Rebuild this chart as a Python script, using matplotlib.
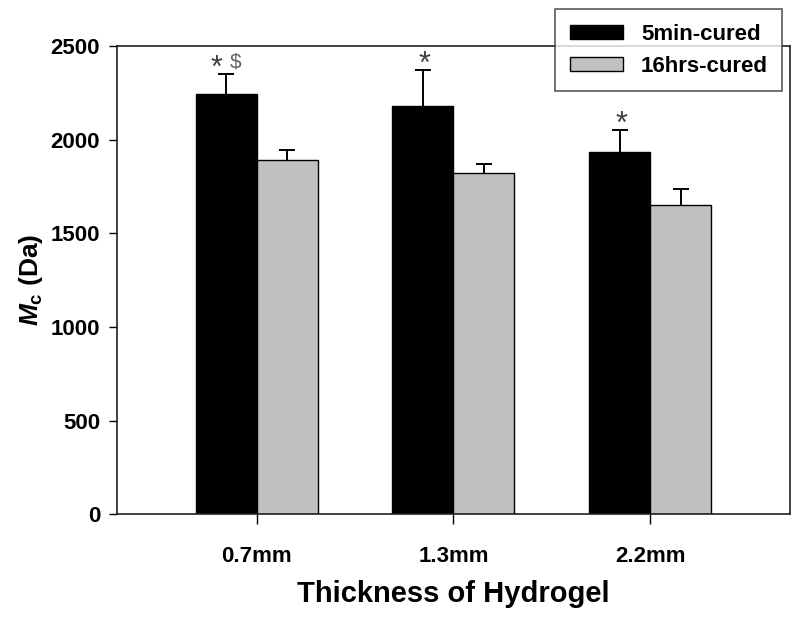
import numpy as np
import matplotlib.pyplot as plt

plt.rcParams['font.family'] = ['Liberation Sans', 'DejaVu Sans']
plt.rcParams['mathtext.fontset'] = 'custom'
plt.rcParams['mathtext.rm'] = 'Liberation Sans:bold'
plt.rcParams['mathtext.it'] = 'Liberation Sans:bold:italic'
plt.rcParams['mathtext.bf'] = 'Liberation Sans:bold'

# data
thickness = ['0.7mm', '1.3mm', '2.2mm']
mc_5min = [2245, 2180, 1935]
err_5min = [105, 190, 115]
mc_16hrs = [1890, 1820, 1652]
err_16hrs = [52, 48, 83]
marks = ['*', '*', '*']

x = np.arange(len(thickness))
w = 0.31

fig = plt.figure(figsize=(8, 6.18), dpi=100)
ax = fig.add_axes([0.146, 0.168, 0.8415, 0.7576])

ax.bar(x - w/2, mc_5min, w, color='black', edgecolor='black', linewidth=1,
       label='5min-cured')
ax.bar(x + w/2, mc_16hrs, w, color='#c0c0c0', edgecolor='black', linewidth=1,
       label='16hrs-cured')

# upper error bars only
for xs, m, e in [(x - w/2, mc_5min, err_5min), (x + w/2, mc_16hrs, err_16hrs)]:
    top = np.array(m) + np.array(e)
    ax.vlines(xs, m, top, color='black', linewidth=1.4, zorder=3)
    ax.plot(xs, top, linestyle='none', marker='_', markersize=11,
            markeredgewidth=1.4, color='black', zorder=3)

# significance marks
for i in range(len(x)):
    top = mc_5min[i] + err_5min[i]
    ax.annotate(marks[i], (x[i] - w/2, top), xytext=(-7 if i == 0 else 1, -7),
                textcoords='offset points', ha='center', va='bottom',
                fontsize=22, color='#404040')
ax.annotate('$', (x[0] - w/2, mc_5min[0] + err_5min[0]), xytext=(7, 2),
            textcoords='offset points', ha='center', va='bottom',
            fontsize=15, color='#606060')

ax.set_xlim(-0.71, 2.71)
ax.set_ylim(0, 2500)
ax.set_yticks([0, 500, 1000, 1500, 2000, 2500])
ax.set_xticks(x)
ax.set_xticklabels(thickness)

for s in ax.spines.values():
    s.set_linewidth(1.2)
    s.set_color('#202020')

ax.tick_params(axis='y', direction='out', length=6, width=1, pad=6, labelsize=16)
ax.tick_params(axis='x', direction='out', length=7, width=1, pad=16, labelsize=16)
for lab in ax.get_xticklabels() + ax.get_yticklabels():
    lab.set_fontweight('bold')

ax.set_xlabel('Thickness of Hydrogel', fontsize=21, fontweight='bold', labelpad=9)
ax.set_ylabel(r'$M_{\mathrm{c}}$ (Da)', fontsize=19, fontweight='bold', labelpad=4)

leg = fig.legend(loc='upper right', bbox_to_anchor=(0.978, 0.985), borderaxespad=0,
                 prop=dict(size=16, weight='bold'), frameon=True, fancybox=False,
                 edgecolor='#303030', handlelength=2.4, handleheight=0.6,
                 borderpad=0.65, labelspacing=0.5, handletextpad=0.8)
leg.get_frame().set_linewidth(1.2)

fig.savefig('out.png', dpi=100)
